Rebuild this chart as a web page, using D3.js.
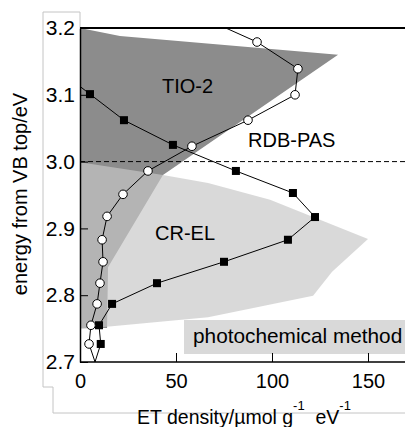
<!DOCTYPE html>
<html>
<head>
<meta charset="utf-8">
<script src="https://cdn.jsdelivr.net/npm/d3@7/dist/d3.min.js"></script>
<style>
    body { margin: 0; background: #fff; }
    text { font-family: "Liberation Sans", Arial, sans-serif; fill: #000; }
</style>
</head>
<body>
<script>
// squares (filled) series: ET density vs energy
var rdbDensity = [-12, 5.2, 22.9, 48.4, 81.2, 110.9, 122.4, 108.3, 75, 40.1, 16.7, 9.9, 10.8, 6.7];
var rdbEnergy  = [3.139, 3.101, 3.062, 3.025, 2.986, 2.953, 2.917, 2.883, 2.850, 2.818, 2.787, 2.755, 2.727, 2.690];

// open circles series
var circDensity = [62, 92.2, 113.5, 112, 87.5, 58.3, 35.4, 22.4, 14.1, 11.5, 12, 10.4, 8.9, 5.7, 4.7, 9.0];
var circEnergy  = [3.218, 3.179, 3.139, 3.100, 3.062, 3.023, 2.986, 2.951, 2.918, 2.883, 2.850, 2.818, 2.787, 2.755, 2.727, 2.690];

// shaded regions
var tioDensity = [0, 20.8, 134.4, 43.2, 14.6, 14.1, 0];
var tioEnergy  = [3.2, 3.188, 3.16, 2.98, 2.842, 2.751, 2.751];
var crelDensity = [0, 43.2, 66.7, 99, 150, 131.3, 121.4, 66.7, 0];
var crelEnergy  = [2.999, 2.98, 2.968, 2.943, 2.884, 2.835, 2.799, 2.767, 2.749];

var xTicks = [0, 50, 100, 150];
var yTicks = [2.7, 2.8, 2.9, 3.0, 3.1, 3.2];

var W = 405, H = 427;
var x = d3.scaleLinear().domain([0, 170]).range([80, 406.4]);
var y = d3.scaleLinear().domain([2.7, 3.2]).range([362, 28]);

var svg = d3.select("body").append("svg").attr("width", W).attr("height", H);

svg.append("defs").append("clipPath").attr("id", "plot")
    .append("rect").attr("x", 80).attr("y", 28).attr("width", W - 80).attr("height", 334);

// grey frame
svg.append("path")
    .attr("d", "M80,28V12H43V387H53V413H" + W)
    .attr("fill", "none").attr("stroke", "#c4c4c4").attr("stroke-width", 1);

var plot = svg.append("g").attr("clip-path", "url(#plot)");

function pts(xs, ys) {
    return xs.map(function (d, i) { return [x(d), y(ys[i])]; });
}

var line = d3.line();

plot.append("path").attr("d", line(pts(tioDensity, tioEnergy)) + "Z").attr("fill", "#8c8c8c");
plot.append("path").attr("d", line(pts(crelDensity, crelEnergy)) + "Z")
    .attr("fill", "rgb(199,199,199)").attr("fill-opacity", 0.68);

// method box
svg.append("rect").attr("x", 184).attr("y", 320).attr("width", W - 184).attr("height", 34).attr("fill", "#d9d9d9");
svg.append("text").attr("x", 193).attr("y", 343).attr("font-size", 20.8).text("photochemical method");

// dashed line at 3.0 and top line
plot.append("line").attr("x1", 80).attr("x2", W).attr("y1", y(3.0)).attr("y2", y(3.0))
    .attr("stroke", "#000").attr("stroke-dasharray", "5,3");
svg.append("line").attr("x1", 80).attr("x2", W).attr("y1", y(3.2)).attr("y2", y(3.2))
    .attr("stroke", "#000").attr("stroke-width", 2.2);

plot.append("path").attr("d", line(pts(rdbDensity, rdbEnergy)))
    .attr("fill", "none").attr("stroke", "#000").attr("stroke-width", 1);
plot.append("path").attr("d", line(pts(circDensity, circEnergy)))
    .attr("fill", "none").attr("stroke", "#000").attr("stroke-width", 1);

plot.selectAll("rect.sq").data(pts(rdbDensity, rdbEnergy)).enter().append("rect")
    .attr("class", "sq")
    .attr("x", function (d) { return d[0] - 4; })
    .attr("y", function (d) { return d[1] - 4; })
    .attr("width", 8).attr("height", 8).attr("fill", "#000");

plot.selectAll("circle").data(pts(circDensity, circEnergy)).enter().append("circle")
    .attr("cx", function (d) { return d[0]; })
    .attr("cy", function (d) { return d[1]; })
    .attr("r", 4.3).attr("fill", "#fff").attr("stroke", "#000").attr("stroke-width", 1);

// axes
var xAxis = d3.axisBottom(x).tickValues(xTicks).tickSizeInner(-9).tickSizeOuter(0).tickPadding(12);
var gx = svg.append("g").attr("transform", "translate(0,362)").call(xAxis);
gx.select(".domain").attr("d", "M80,0H" + W).attr("stroke-width", 1.5);
gx.selectAll("text").attr("font-size", 20).attr("font-family", null);

var yAxis = d3.axisLeft(y).tickValues(yTicks).tickFormat(d3.format(".1f")).tickSizeInner(-8).tickSizeOuter(0).tickPadding(5);
var gy = svg.append("g").attr("transform", "translate(80,0)").call(yAxis);
gy.select(".domain").attr("stroke-width", 1.5);
gy.selectAll("text").attr("font-size", 21).attr("font-family", null);

// region labels
svg.append("text").attr("x", 162).attr("y", 93).attr("font-size", 20).text("TIO-2");
svg.append("text").attr("x", 248).attr("y", 147).attr("font-size", 20).text("RDB-PAS");
svg.append("text").attr("x", 155).attr("y", 240).attr("font-size", 20).text("CR-EL");

// axis titles
svg.append("text").attr("transform", "translate(27,194) rotate(-90)")
    .attr("text-anchor", "middle").attr("font-size", 20).text("energy from VB top/eV");

var xt = svg.append("text").attr("x", 137).attr("y", 424).attr("font-size", 19.5);
xt.append("tspan").text("ET density/\u00b5mol g");
xt.append("tspan").attr("dy", -14).attr("font-size", 13).text("-1");
xt.append("tspan").attr("dy", 14).text("\u00a0 eV");
xt.append("tspan").attr("dy", -14).attr("font-size", 13).text("-1");
</script>
</body>
</html>
